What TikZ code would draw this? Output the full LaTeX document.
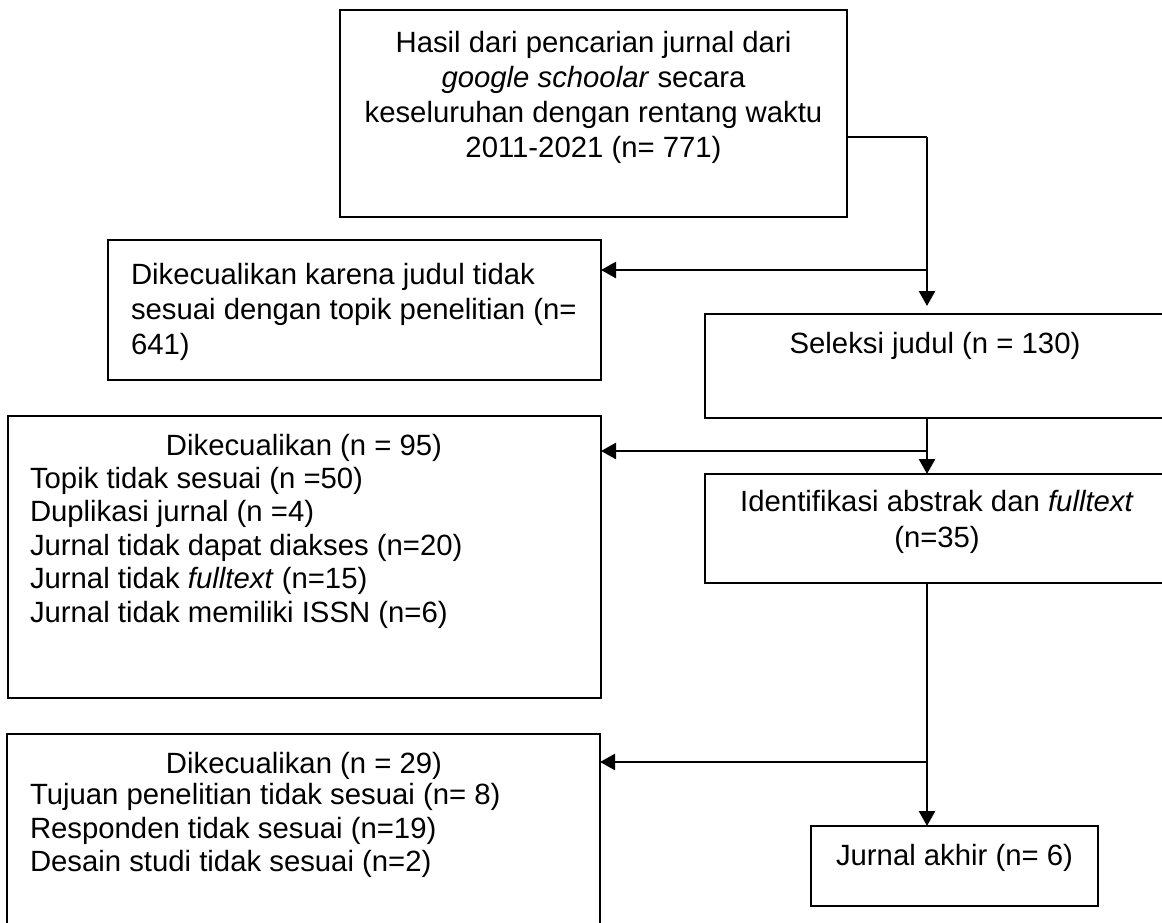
\documentclass[tikz,border=0pt]{standalone}
\usepackage{fontspec}
\setmainfont{Liberation Sans}
\usetikzlibrary{arrows.meta}
\tikzset{
  boxnode/.style={draw, line width=2.5bp, inner sep=0pt, outer sep=0pt, anchor=north west},
  txt/.style={inner sep=0pt, outer sep=0pt, font=\fontsize{29.3bp}{35bp}\selectfont},
  txtb/.style={inner sep=0pt, outer sep=0pt, font=\fontsize{29.3bp}{33.5bp}\selectfont},
  thinconn/.style={line width=1.6bp},
  arr/.style={line width=2.5bp, -{Triangle[length=15bp,width=16bp]}}
}
\begin{document}
\begin{tikzpicture}[x=1bp,y=-1bp]
\useasboundingbox (0,0) rectangle (1162,923);
\fill[white] (0,0) rectangle (1162,923);

% boxes
\node[boxnode, minimum width=507bp, minimum height=207bp] (b1) at (340,10) {};
\node[boxnode, minimum width=493bp, minimum height=140bp] (b2) at (108,240) {};
\node[boxnode, minimum width=460bp, minimum height=104bp] (b3) at (705,314) {};
\node[boxnode, minimum width=593bp, minimum height=282bp] (b4) at (8,416) {};
\node[boxnode, minimum width=460bp, minimum height=109bp] (b5) at (705,474) {};
\node[boxnode, minimum width=593bp, minimum height=200bp] (b6) at (7,734) {};
\node[boxnode, minimum width=287bp, minimum height=80bp] (b7) at (811,826) {};

% texts
\node[txt, anchor=north, align=center] (t1) at (593.5,31.5)
  {Hasil dari pencarian jurnal dari\\\textit{google schoolar} secara\\keseluruhan dengan rentang waktu\\2011-2021 (n= 771)};
\node[txt, anchor=north west, align=left] (t2) at (131,263.5)
  {Dikecualikan karena judul tidak\\sesuai dengan topik penelitian (n=\\641)};
\node[txt, anchor=base] (t3) at (935,353) {Seleksi judul (n = 130)};
\node[txt, anchor=north, align=center, font=\fontsize{29.3bp}{36bp}\selectfont] (t5) at (937,490.5)
  {Identifikasi abstrak dan \textit{fulltext}\\(n=35)};
\node[txt, anchor=base] (t4h) at (304,455) {Dikecualikan (n = 95)};
\node[txtb, anchor=north west, align=left] (t4) at (30,467)
  {Topik tidak sesuai (n =50)\\Duplikasi jurnal (n =4)\\Jurnal tidak dapat diakses (n=20)\\Jurnal tidak \textit{fulltext} (n=15)\\Jurnal tidak memiliki ISSN (n=6)};
\node[txt, anchor=base] (t6h) at (304,773) {Dikecualikan (n = 29)};
\node[txtb, anchor=north west, align=left, font=\fontsize{29.3bp}{33.3bp}\selectfont] (t6) at (30,783.5)
  {Tujuan penelitian tidak sesuai (n= 8)\\Responden tidak sesuai (n=19)\\Desain studi tidak sesuai (n=2)};
\node[txt, anchor=base] (t7) at (954.5,865) {Jurnal akhir (n= 6)};

% junction points
\coordinate (c1) at (927,137);
\coordinate (c2) at (927,270);
\coordinate (c1end) at (927,306);
\coordinate (c3) at (927,451);
\coordinate (c4) at (927,762);

% connectors
\draw[thinconn] (b1.east |- c1) -- (c1);
\draw[arr] (c1) -- (c1end);
\draw[arr] (c2) -- (c2 -| b2.east);
\draw[arr] (c3 |- b3.south) -- (c3 |- b5.north);
\draw[arr] (c3) -- (c3 -| b4.east);
\draw[arr] (c4 |- b5.south) -- (c4 |- b7.north);
\draw[arr] (c4) -- (c4 -| b6.east);
\end{tikzpicture}
\end{document}
